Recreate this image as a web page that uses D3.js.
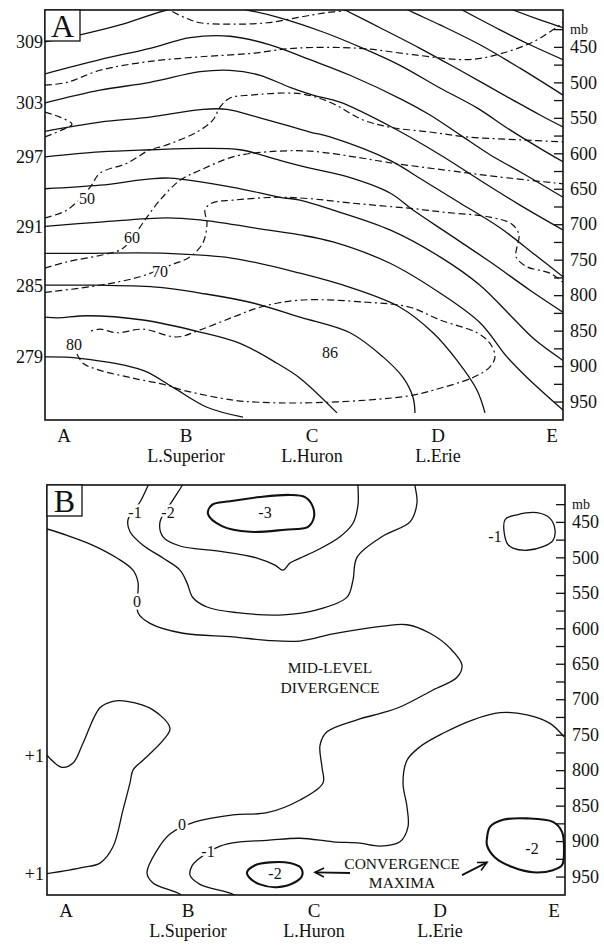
<!DOCTYPE html>
<html>
<head>
<meta charset="utf-8">
<script src="https://cdn.jsdelivr.net/npm/d3@7"></script>
<style>
body { margin: 0; background: #fff; }
text { font-family: "Liberation Serif", "Times New Roman", serif; fill: #111; }
</style>
</head>
<body>
<script>
var width = 604;
var height = 945;

// stations along the cross-section (km) and their names
var stationNames = ["A", "B", "C", "D", "E"];
var stationKm = [38, 282, 534, 786, 1014];
var lakeNames = ["", "L.Superior", "L.Huron", "L.Erie", ""];

// pressure axis (mb)
var pressureTicks = [425, 450, 475, 500, 525, 550, 575, 600, 625, 650, 675, 700, 725, 750, 775, 800, 825, 850, 875, 900, 925, 950];
var thetaLabels = [309, 303, 297, 291, 285, 279];

// ---- panel A : isentropes (K), points are [km, mb] ----
var th279 = [[0,887],[70,889],[196,906],[256,930],[324,958],[396,972]];
var th282 = [[0,831],[26,832],[84,829],[196,835],[310,852],[390,868],[464,896],[510,917],[584,966]];
var th285 = [[0,786],[110,786],[230,789],[310,797],[410,810],[510,831],[610,853],[676,887],[716,916],[736,944],[740,966]];
var th288 = [[0,741],[76,741],[244,741],[376,748],[510,769],[610,789],[710,817],[776,853],[824,892],[864,934],[880,966]];
var th291 = [[0,703],[110,697],[244,691],[310,694],[444,708],[510,715],[576,725],[690,755],[790,797],[870,839],[924,887],[964,916],[1036,962]];
var th294 = [[0,650],[110,645],[210,636],[250,635],[376,648],[470,662],[510,666],[576,680],[690,708],[790,746],[870,786],[930,828],[980,863],[1036,892]];
var th297 = [[0,605],[110,598],[210,595],[310,593],[390,595],[470,610],[530,621],[604,633],[690,656],[736,680],[810,715],[890,753],[970,793],[1036,824]];
var th300 = [[0,569],[110,556],[210,549],[316,538],[364,538],[430,550],[530,570],[570,577],[690,610],[756,638],[830,670],[910,705],[980,743],[1036,774]];
var th303 = [[0,529],[110,511],[210,500],[310,485],[370,483],[430,490],[490,507],[536,518],[590,528],[696,564],[790,602],[870,638],[950,673],[1036,708]];
var th306 = [[0,488],[110,468],[210,452],[290,437],[370,435],[450,447],[530,468],[610,490],[716,525],[770,546],[830,574],[890,602],[950,626],[1036,662]];
var th309 = [[0,443],[70,433],[150,419],[244,398],[320,388],[404,398],[470,409],[556,429],[636,452],[710,476],[790,508],[864,536],[930,567],[990,593],[1036,612]];
var th312 = [[570,387],[600,398],[670,423],[750,452],[830,483],[936,525],[990,546],[1036,563]];
var th315 = [[696,387],[726,398],[790,419],[870,447],[950,480],[1036,518]];
var th318 = [[806,388],[834,398],[910,426],[970,447],[1036,468]];
var th321 = [[900,388],[936,398],[990,412],[1036,423]];
var isentropes = [[279, th279], [282, th282], [285, th285], [288, th288], [291, th291], [294, th294],
  [297, th297], [300, th300], [303, th303], [306, th306], [309, th309], [312, th312],
  [315, th315], [318, th318], [321, th321]];

// ---- panel A : dashed lines ----
var rhTop = [[240,390],[250,398],[284,410],[310,416],[376,418],[444,416],[510,408],[560,402],[604,398],[630,391]];
var rhUpper = [[0,504],[44,500],[110,483],[204,471],[310,464],[416,459],[496,452],[630,452],[736,461],[844,468],[904,461],[976,443],[1024,422],[1036,415]];
var rhNose = [[0,542],[30,549],[54,559],[34,567],[0,577]];
var rh50 = [[0,691],[44,680],[90,648],[110,628],[164,614],[210,595],[236,590],[304,570],[336,553],[350,535],[370,522],[410,518],[510,516],[570,528],[636,553],[696,564],[770,570],[844,577],[950,581],[1036,584]];
var rh60 = [[0,762],[44,753],[116,743],[156,734],[196,698],[204,690],[230,666],[270,638],[310,624],[376,605],[444,598],[530,597],[636,607],[696,614],[804,624],[904,633],[1036,643]];
var rh70 = [[0,796],[110,786],[190,774],[250,758],[290,746],[316,726],[324,698],[320,680],[334,670],[376,666],[464,662],[530,664],[610,670],[750,679],[796,683],[890,690],[934,700],[948,715],[944,732],[942,746],[964,760],[1010,769],[1036,782]];
var rh80 = [[64,883],[76,896],[110,906],[176,917],[244,927],[276,934],[376,948],[430,951],[510,952],[644,948],[736,941],[776,934],[856,916],[890,901],[900,887],[890,868],[864,853],[790,835],[730,817],[644,810],[510,807],[430,817],[376,831],[310,849],[264,859],[196,848],[144,853],[110,848],[86,852]];
var dashedLines = [rhTop, rhUpper, rhNose, rh50, rh60, rh70, rh80];
var dashedLabels = [["50", 84, 663], ["60", 174, 718], ["70", 230, 767], ["80", 58, 869], ["86", 570, 880]];

// ---- panel B : divergence contours ----
var divM3 = [[322,439],[330,426],[366,421],[426,415],[486,412],[516,415],[530,426],[534,443],[522,457],[476,461],[406,464],[350,456]];
var divM2top = [[278,388],[270,399],[252,419],[226,450],[232,471],[266,484],[340,491],[420,501],[456,511],[472,518],[486,508],[506,501],[540,490],[586,471],[612,452],[622,426],[622,399],[622,388]];
var divM1top = [[210,388],[202,399],[186,422],[162,447],[166,464],[192,483],[232,501],[266,518],[280,536],[292,557],[320,570],[380,578],[472,581],[540,574],[600,556],[612,532],[620,500],[672,470],[726,450],[740,423],[736,399],[734,388]];
var divM1east = [[920,480],[932,487],[960,490],[992,485],[1012,476],[1016,461],[1006,445],[980,437],[940,440],[916,447]];
var divZero = [[0,460],[40,469],[92,483],[140,501],[172,518],[182,535],[182,578],[206,593],[272,607],[372,612],[440,617],[506,618],[572,608],[672,597],[720,595],[766,607],[806,628],[830,652],[820,669],[772,687],[706,711],[672,719],[620,729],[560,746],[546,765],[550,796],[552,818],[506,842],[440,860],[372,863],[296,873],[246,890],[220,913],[200,945],[212,959],[266,975],[276,983]];
var divP1 = [[0,779],[30,796],[52,790],[72,762],[106,712],[132,703],[160,703],[212,715],[246,741],[232,758],[192,786],[172,800],[166,818],[152,856],[132,908],[106,931],[72,937],[0,946]];
var divM1low = [[386,983],[372,975],[306,961],[286,948],[290,935],[300,927],[346,907],[386,901],[440,899],[506,896],[572,901],[626,903],[666,907],[706,901],[722,880],[720,852],[712,818],[720,786],[746,767],[792,748],[852,729],[906,719],[960,722],[1006,734],[1034,753]];
var divM2huron = [[400,944],[416,934],[446,930],[486,931],[508,938],[510,949],[496,958],[460,965],[426,961],[404,951]];
var divM2erie = [[880,896],[886,880],[912,870],[960,868],[1012,873],[1030,887],[1034,913],[1030,934],[1012,941],[972,944],[932,937],[896,923],[880,906]];
var openContours = [divM2top, divM1top, divZero, divP1, divM1low];
var closedContours = [[divM1east, 1.3], [divM3, 2.1], [divM2huron, 2.1], [divM2erie, 2.1]];
var divLabels = [["-1", 176, 436], ["-2", 242, 436], ["-3", 436, 436], ["-1", 896, 471], ["0", 180, 562],
  ["0", 270, 877], ["-1", 322, 915], ["-2", 456, 945], ["-2", 970, 910]];
var notes = [["MID-LEVEL", 566, 656], ["DIVERGENCE", 566, 683], ["CONVERGENCE", 710, 931], ["MAXIMA", 710, 958]];
var arrows = [[[606, 945], [536, 944]], [[830, 948], [880, 930]]];

var svg = d3.select("body")
  .append("svg")
  .attr("width", width)
  .attr("height", height)
  .style("background-color", "#fff");

svg.append("defs").append("marker")
  .attr("id", "head")
  .attr("viewBox", "-10 -6 12 12")
  .attr("refX", 0).attr("refY", 0)
  .attr("markerWidth", 12).attr("markerHeight", 12)
  .attr("markerUnits", "userSpaceOnUse")
  .attr("orient", "auto")
  .append("path")
  .attr("d", "M-9,-4.5 L0,0 L-9,4.5")
  .attr("fill", "none")
  .attr("stroke", "#111")
  .attr("stroke-width", 1.6);

var panels = [
  { name: "A", x: d3.scaleLinear().domain([0, 1036]).range([45, 563]), y: d3.scaleLinear().domain([398, 976]).range([10, 420]) },
  { name: "B", x: d3.scaleLinear().domain([0, 1036]).range([47, 565]), y: d3.scaleLinear().domain([398, 976]).range([485, 895]) }
];

panels.forEach(function(p) {
  var x = p.x, y = p.y;
  var x0 = x.range()[0], x1 = x.range()[1], y0 = y.range()[0], y1 = y.range()[1];
  var g = svg.append("g");

  g.append("clipPath").attr("id", "clip" + p.name)
    .append("rect").attr("x", x0).attr("y", y0).attr("width", x1 - x0).attr("height", y1 - y0);

  var plot = g.append("g").attr("clip-path", "url(#clip" + p.name + ")");

  var line = d3.line()
    .x(function(d) { return x(d[0]); })
    .y(function(d) { return y(d[1]); })
    .curve(d3.curveCatmullRom.alpha(0.5));
  var loop = d3.line()
    .x(function(d) { return x(d[0]); })
    .y(function(d) { return y(d[1]); })
    .curve(d3.curveCatmullRomClosed.alpha(0.5));

  function label(sel, data) {
    sel.selectAll(null)
      .data(data)
      .enter().append("text")
      .attr("x", function(d) { return x(d[1]); })
      .attr("y", function(d) { return y(d[2]); })
      .attr("dy", "0.35em")
      .attr("text-anchor", "middle")
      .attr("font-size", 16)
      .attr("stroke", "#fff")
      .attr("stroke-width", 5)
      .attr("paint-order", "stroke")
      .text(function(d) { return d[0]; });
  }

  if (p.name === "A") {
    plot.selectAll(null)
      .data(isentropes)
      .enter().append("path")
      .attr("d", function(d) { return line(d[1]); })
      .attr("fill", "none")
      .attr("stroke", "#111")
      .attr("stroke-width", 1.3);

    plot.selectAll(null)
      .data(dashedLines)
      .enter().append("path")
      .attr("d", line)
      .attr("fill", "none")
      .attr("stroke", "#111")
      .attr("stroke-width", 1.2)
      .attr("stroke-dasharray", "7,3.5,7,3.5,2,3.5");

    label(plot, dashedLabels);

    // isentrope values at the left edge
    g.selectAll(null)
      .data(isentropes.filter(function(d) { return thetaLabels.indexOf(d[0]) >= 0; }))
      .enter().append("text")
      .attr("x", x0 - 2)
      .attr("y", function(d) { return y(d[1][0][1]); })
      .attr("dy", "0.35em")
      .attr("text-anchor", "end")
      .attr("font-size", 18)
      .text(function(d) { return d[0]; });
  } else {
    plot.selectAll(null)
      .data(openContours)
      .enter().append("path")
      .attr("d", line)
      .attr("fill", "none")
      .attr("stroke", "#111")
      .attr("stroke-width", 1.3);

    plot.selectAll(null)
      .data(closedContours)
      .enter().append("path")
      .attr("d", function(d) { return loop(d[0]); })
      .attr("fill", "none")
      .attr("stroke", "#111")
      .attr("stroke-width", function(d) { return d[1]; });

    label(plot, divLabels);

    plot.selectAll(null)
      .data(notes)
      .enter().append("text")
      .attr("x", function(d) { return x(d[1]); })
      .attr("y", function(d) { return y(d[2]); })
      .attr("dy", "0.35em")
      .attr("text-anchor", "middle")
      .attr("font-size", 15.5)
      .text(function(d) { return d[0]; });

    plot.selectAll(null)
      .data(arrows)
      .enter().append("line")
      .attr("x1", function(d) { return x(d[0][0]); })
      .attr("y1", function(d) { return y(d[0][1]); })
      .attr("x2", function(d) { return x(d[1][0]); })
      .attr("y2", function(d) { return y(d[1][1]); })
      .attr("stroke", "#111")
      .attr("stroke-width", 1.8)
      .attr("marker-end", "url(#head)");

    // +1 at both ends of the positive contour
    g.selectAll(null)
      .data([divP1[0], divP1[divP1.length - 1]])
      .enter().append("text")
      .attr("x", x0 - 3)
      .attr("y", function(d) { return y(d[1]); })
      .attr("dy", "0.35em")
      .attr("text-anchor", "end")
      .attr("font-size", 18)
      .text("+1");
  }

  // pressure axis on the right, ticks pointing inward
  var axis = d3.axisRight(y)
    .tickValues(pressureTicks)
    .tickSizeInner(-9)
    .tickSizeOuter(0)
    .tickPadding(7)
    .tickFormat(function(d) { return d === 425 ? "mb" : (d % 50 === 0 ? d : ""); });

  var ag = g.append("g")
    .attr("transform", "translate(" + x1 + ",0)")
    .call(axis)
    .attr("font-family", null)
    .attr("font-size", null);
  ag.select(".domain").remove();
  ag.selectAll(".tick line").attr("stroke", "#111").attr("stroke-width", 1.3);
  ag.selectAll(".tick text")
    .attr("fill", "#111")
    .attr("font-size", function(d) { return d === 425 ? 14 : 18; });

  // frame
  g.append("rect")
    .attr("x", x0).attr("y", y0)
    .attr("width", x1 - x0).attr("height", y1 - y0)
    .attr("fill", "none")
    .attr("stroke", "#111")
    .attr("stroke-width", 1.6);

  // panel letter box
  g.append("rect")
    .attr("x", x0).attr("y", y0)
    .attr("width", 35).attr("height", 31)
    .attr("fill", "#fff")
    .attr("stroke", "#111")
    .attr("stroke-width", 1.3);
  g.append("text")
    .attr("x", x0 + 17.5).attr("y", y0 + 27)
    .attr("text-anchor", "middle")
    .attr("font-size", 32)
    .text(p.name);

  // stations underneath
  g.selectAll(null)
    .data(stationKm)
    .enter().append("text")
    .attr("x", function(d) { return x(d); })
    .attr("y", y1 + 22)
    .attr("text-anchor", "middle")
    .attr("font-size", 19)
    .text(function(d, i) { return stationNames[i]; });

  g.selectAll(null)
    .data(stationKm)
    .enter().append("text")
    .attr("x", function(d) { return x(d); })
    .attr("y", y1 + 42)
    .attr("text-anchor", "middle")
    .attr("font-size", 18)
    .text(function(d, i) { return lakeNames[i]; });
});
</script>
</body>
</html>
